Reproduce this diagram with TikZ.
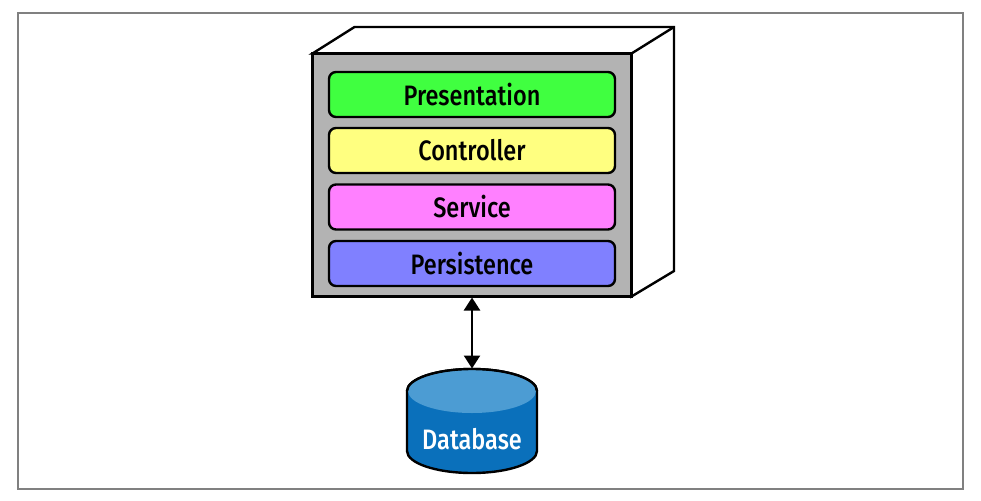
\documentclass[tikz,border=0pt]{standalone}
\usepackage{fontspec}
\setmainfont{Fira Sans}[BoldFont=Fira Sans Medium]
\usetikzlibrary{arrows.meta}
\definecolor{framegray}{HTML}{808080}
\definecolor{panelgray}{HTML}{B3B3B3}
\definecolor{presgreen}{HTML}{40FF40}
\definecolor{ctrlyellow}{HTML}{FFFF80}
\definecolor{servpink}{HTML}{FF80FF}
\definecolor{perblue}{HTML}{8080FF}
\definecolor{dbblue}{HTML}{0A70BB}
\definecolor{dbtop}{HTML}{4C9CD3}
\newcommand{\lbl}[1]{\scalebox{0.87}[1.04]{#1}}
\tikzset{
  labeltext/.style={font=\fontsize{27}{27}\selectfont\bfseries},
  layer/.style={draw=black,line width=2.4pt,rounded corners=7pt,minimum width=286pt,minimum height=45pt,inner sep=0pt,labeltext,text=black},
  boxline/.style={draw=black,line width=2.4pt,line join=miter},
  link/.style={line width=2.4pt,{Triangle[length=13pt,width=16pt]}-{Triangle[length=13pt,width=16pt]}}
}
\begin{document}
\begin{tikzpicture}[x=1pt,y=-1pt]
\useasboundingbox (0,0) rectangle (981,500);
\fill[white] (0,0) rectangle (981,500);
\draw[framegray,line width=1.1pt] (18,13) rectangle (963,489);
% box
\draw[boxline,fill=white] (312.5,53.5) -- (354.5,27) -- (674,27) -- (674,271) -- (631.5,296.5) -- (631.5,53.5) -- cycle;
\draw[boxline] (631.5,53.5) -- (674,27);
\draw[boxline,fill=panelgray] (312.5,53.5) rectangle (631.5,296.5);
\coordinate (panelbottom) at (472,297.5);
\node[layer,fill=presgreen] (pres) at (472,94.5) {\raisebox{1pt}{\lbl{Presentation}}};
\node[layer,fill=ctrlyellow] (ctrl) at (472,150.5) {\raisebox{1pt}{\lbl{Controller}}};
\node[layer,fill=servpink] (serv) at (472,207) {\raisebox{1pt}{\lbl{Service}}};
\node[layer,fill=perblue] (pers) at (472,263.5) {\raisebox{1pt}{\lbl{Persistence}}};
% database
\draw[black,line width=2.4pt,fill=dbblue] (407,391) -- (407,451) arc[start angle=180,end angle=0,x radius=65,y radius=22] -- (537,391) arc[start angle=360,end angle=180,x radius=65,y radius=22] -- cycle;
\fill[dbtop] (408,391) arc[start angle=180,end angle=0,x radius=64,y radius=22] arc[start angle=360,end angle=180,x radius=64,y radius=21] -- cycle;
\draw[black,line width=2.4pt] (407,391) arc[start angle=180,end angle=360,x radius=65,y radius=22];
\node[inner sep=0pt,text=white,labeltext] (db) at (472,439) {\lbl{Database}};
\coordinate (dbtopc) at (472,368.5);
\draw[link] (panelbottom) -- (dbtopc);
\end{tikzpicture}
\end{document}
